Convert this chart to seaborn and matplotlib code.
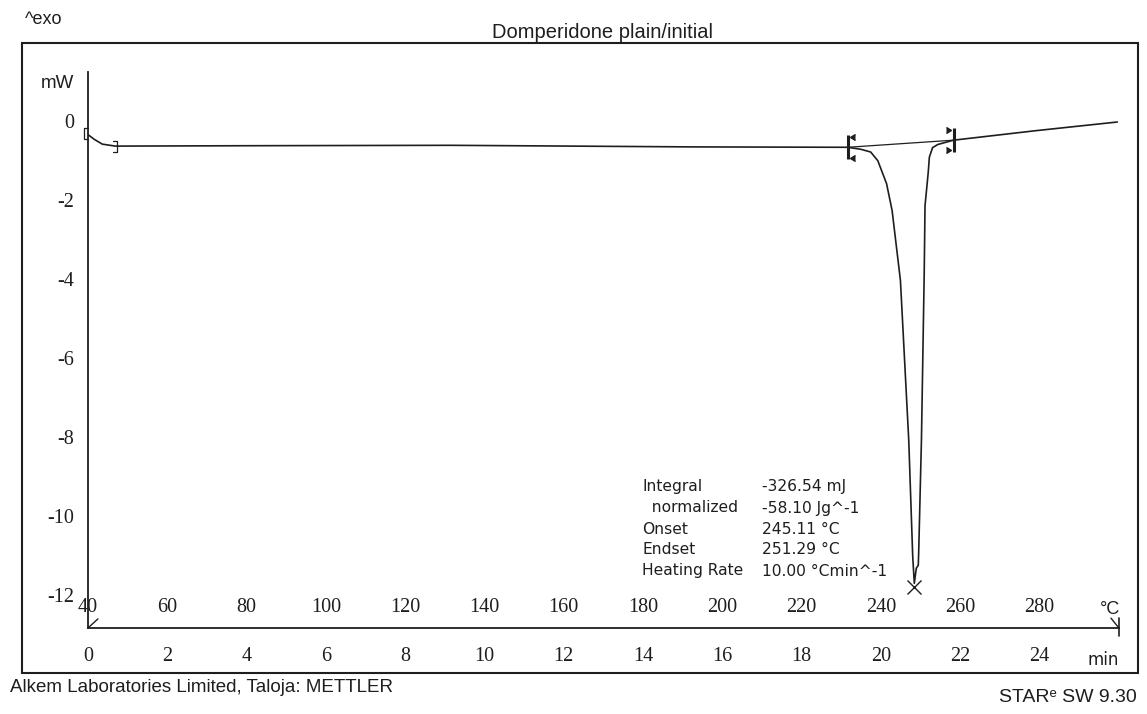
import numpy as np
import pandas as pd
import seaborn as sns
import matplotlib.pyplot as plt
from matplotlib.patches import Rectangle

# DSC curve: time (min) vs heat flow (mW)
time_min = [0.00, 0.16, 0.36, 0.69, 4.20, 9.14, 15.20, 19.16, 19.49, 19.74, 19.92,
            20.14, 20.28, 20.37, 20.49, 20.70, 20.80, 20.84, 20.89, 20.94, 20.95,
            21.02, 21.09, 21.10, 21.11, 21.19, 21.22, 21.30, 21.43, 21.83, 23.90, 25.96]
heat_mw = [-0.35, -0.47, -0.59, -0.64, -0.63, -0.62, -0.66, -0.67, -0.72, -0.79, -1.01,
           -1.59, -2.27, -3.03, -4.04, -8.09, -11.03, -11.71, -11.33, -11.25, -10.95,
           -8.08, -3.85, -3.02, -2.15, -1.32, -0.92, -0.68, -0.60, -0.49, -0.25, -0.03]

# evaluation limits and peak
start_limits = [-0.10, 0.72]
start_levels = [-0.33, -0.65]
int_limits = [19.16, 21.83]
int_levels = [-0.67, -0.49]
peak_t, peak_mw = 20.84, -11.81

time_ticks = [0, 2, 4, 6, 8, 10, 12, 14, 16, 18, 20, 22, 24]
temp_labels = ['40', '60', '80', '100', '120', '140', '160', '180', '200', '220', '240', '260', '280']
mw_ticks = [1, 0, -2, -4, -6, -8, -10, -12]
mw_labels = ['mW', '0', '-2', '-4', '-6', '-8', '-10', '-12']

stat_names = ['Integral', '  normalized', 'Onset', 'Endset', 'Heating Rate']
stat_values = ['-326.54 mJ', '-58.10 Jg^-1', '245.11 °C', '251.29 °C', '10.00 °Cmin^-1']

sns.set_style("white")
plt.rcParams['font.family'] = ['Liberation Sans', 'DejaVu Sans']

W, H = 1147, 714
fig = plt.figure(figsize=(W / 100, H / 100), dpi=100)

def fx(x):
    return x / W

def fy(y):
    return 1 - y / H

ink = '#1e1e1e'
x0, y0 = 88, 628          # origin of the axes, px
px_min, px_mw = 39.65, 39.5
t_max, mw_lo, mw_hi = 26, -12.84, 1.24
ax = fig.add_axes([fx(x0), fy(y0), t_max * px_min / W, (mw_hi - mw_lo) * px_mw / H])
ax.patch.set_alpha(0)

df = pd.DataFrame({'time': time_min, 'mW': heat_mw})
sns.lineplot(data=df, x='time', y='mW', color=ink, lw=1.2, sort=False,
             estimator=None, ax=ax)

# integration baseline and limit brackets
ax.plot(int_limits, int_levels, color=ink, lw=0.9)
for t, lv, d in zip(int_limits, int_levels, [1, -1]):
    ax.plot([t, t], [lv - 0.3, lv + 0.3], color=ink, lw=2.2, solid_capstyle='butt')
    ax.plot([t + d * 0.06] * 2, [lv - 0.26, lv + 0.26], ls='none',
            marker=4 if d > 0 else 5, ms=5, color=ink)
for t, lv, d in zip(start_limits, start_levels, [1, -1]):
    ax.plot([t + d * 0.1, t, t, t + d * 0.1], [lv + 0.14, lv + 0.14, lv - 0.14, lv - 0.14],
            color=ink, lw=0.9, clip_on=False)
ax.plot(peak_t, peak_mw, marker='x', ms=10, mew=1.0, color=ink)

# axis ends
ax.plot([0, 0.25], [mw_lo, mw_lo + 0.23], color=ink, lw=1.0, clip_on=False)
ax.plot([t_max - 0.2, t_max], [mw_lo + 0.25, mw_lo], color=ink, lw=1.0, clip_on=False)
ax.plot([t_max, t_max], [mw_lo - 0.2, mw_lo + 0.25], color=ink, lw=1.2, clip_on=False)

ax.set_xlim(0, t_max)
ax.set_ylim(mw_lo, mw_hi)
ax.set_xlabel('')
ax.set_ylabel('')
for s in ['top', 'right']:
    ax.spines[s].set_visible(False)
for s in ['left', 'bottom']:
    ax.spines[s].set_linewidth(1.3)
    ax.spines[s].set_color(ink)

ax.set_xticks(time_ticks)
ax.set_xticklabels([str(v) for v in time_ticks])
ax.set_xticks(np.arange(1, 26, 2), minor=True)
ax.set_yticks(mw_ticks)
ax.set_yticklabels(mw_labels)
ax.set_yticks(np.arange(-11, 0, 2), minor=True)
ax.tick_params(axis='x', which='major', direction='inout', length=14.4, width=1.1,
               color=ink, pad=6.5, labelsize=14.5)
ax.tick_params(axis='x', which='minor', direction='inout', length=10.8, width=1.1, color=ink)
ax.tick_params(axis='y', which='major', direction='out', length=7.2, width=1.1,
               color=ink, pad=3, labelsize=14.5)
ax.tick_params(axis='y', which='minor', direction='out', length=6, width=1.1, color=ink)
for lab in ax.get_xticklabels() + ax.get_yticklabels():
    lab.set_fontfamily('Liberation Serif')
    lab.set_color(ink)
ax.get_yticklabels()[0].set_fontfamily('Liberation Sans')
ax.get_yticklabels()[0].set_fontsize(13.5)

for t, lab in zip(time_ticks, temp_labels):
    ax.annotate(lab, xy=(t, 0), xycoords=('data', 'axes fraction'), xytext=(0, 15),
                textcoords='offset points', ha='center', va='center',
                family='Liberation Serif', fontsize=14.5, color=ink)
ax.annotate('°C', xy=(25.78, 0), xycoords=('data', 'axes fraction'), xytext=(0, 13),
            textcoords='offset points', ha='center', va='center', fontsize=13, color=ink)
ax.annotate('min', xy=(25.6, 0), xycoords=('data', 'axes fraction'), xytext=(0, -23),
            textcoords='offset points', ha='center', va='center',
            family='DejaVu Sans', fontsize=12, color=ink)

# frame and page texts
fig.add_artist(Rectangle((fx(22), fy(673)), fx(1138) - fx(22), fy(43) - fy(673),
                         transform=fig.transFigure, fill=False, lw=1.5, ec=ink))
fig.text(fx(603), fy(32), 'Domperidone plain/initial', ha='center', va='center',
         fontsize=14.5, color=ink)
fig.text(fx(25), fy(20), '^exo', ha='left', va='center', fontsize=13, color=ink)
fig.text(fx(10), fy(688), 'Alkem Laboratories Limited, Taloja: METTLER', ha='left',
         va='center', fontsize=13.5, color=ink)
fig.text(fx(1137), fy(697), 'STARᵉ SW 9.30', ha='right', va='center', fontsize=14, color=ink)

rows_y = [487, 508, 529, 549, 571]
for name, val, y in zip(stat_names, stat_values, rows_y):
    fig.text(fx(642), fy(y), name, ha='left', va='center', family='DejaVu Sans',
             fontsize=11.2, color=ink)
    fig.text(fx(762), fy(y), val, ha='left', va='center', family='DejaVu Sans',
             fontsize=11.2, color=ink)

fig.savefig('out.png', dpi=100)
